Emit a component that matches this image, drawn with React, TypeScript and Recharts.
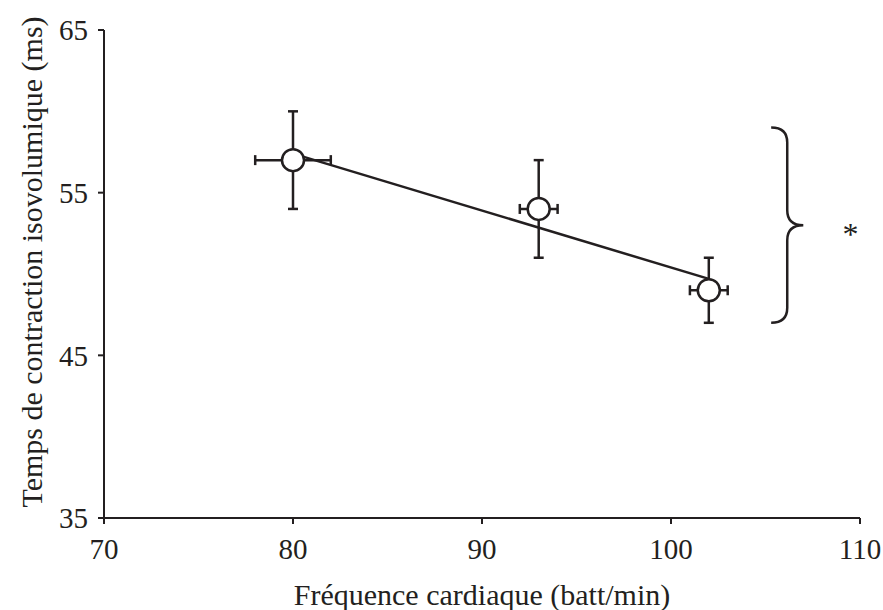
import {
  ScatterChart,
  Scatter,
  XAxis,
  YAxis,
  ErrorBar,
  ReferenceArea,
  ReferenceDot,
} from "recharts";

const INK = "#231f20";
const FONT = "'Liberation Serif', 'Times New Roman', serif";

// heart rate (bpm) vs isovolumic contraction time (ms)
const heartRate = [80, 93, 102];
const contractionTime = [57, 54, 49];
const heartRateErr = [2, 1, 1];
const contractionErr = [3, 3, 2];

// regression line, read at both ends
const trendX = [80, 102];
const trendY = [57.4, 49.7];

const xTicks = [70, 80, 90, 100, 110];
const yTicks = [35, 45, 55, 65];

// brace + asterisk annotation (significance)
const braceX = [105.3, 107.0];
const braceY = [47, 59];
const star = { x: 109.5, y: 52.5 };

const points = heartRate.map((x, i) => ({
  x,
  y: contractionTime[i],
  xErr: heartRateErr[i],
  yErr: contractionErr[i],
}));

const trend = trendX.map((x, i) => ({ x, y: trendY[i] }));

const Brace = (props: any) => {
  const { x, y, width: w, height: h } = props;
  const r = 15;
  const mx = x + w / 2;
  const my = y + h / 2;
  const d =
    `M ${x} ${y} Q ${mx} ${y} ${mx} ${y + r} ` +
    `L ${mx} ${my - r} Q ${mx} ${my} ${x + w} ${my} ` +
    `Q ${mx} ${my} ${mx} ${my + r} ` +
    `L ${mx} ${y + h - r} Q ${mx} ${y + h} ${x} ${y + h}`;
  return <path d={d} fill="none" stroke={INK} strokeWidth={2.5} />;
};

const YTitle = (props: any) => {
  const { x, y, height } = props.viewBox;
  const cx = x + 42;
  const cy = y + height / 2 - 12;
  return (
    <text
      x={cx}
      y={cy}
      transform={`rotate(-90, ${cx}, ${cy})`}
      textAnchor="middle"
      fontFamily={FONT}
      fontSize={30}
      fill={INK}
    >
      Temps de contraction isovolumique (ms)
    </text>
  );
};

const XTitle = (props: any) => {
  const { x, y, width } = props.viewBox;
  return (
    <text
      x={x + width / 2}
      y={y + 87}
      textAnchor="middle"
      fontFamily={FONT}
      fontSize={30}
      fill={INK}
    >
      Fréquence cardiaque (batt/min)
    </text>
  );
};

const tickStyle = { fontFamily: FONT, fontSize: 29, fill: INK };

export default function App() {
  return (
    <div style={{ position: "absolute", left: 0, top: 0, background: "#fff" }}>
      <ScatterChart
        width={883}
        height={610}
        margin={{ top: 30, right: 23, bottom: 0, left: 0 }}
      >
        <XAxis
          type="number"
          dataKey="x"
          domain={[70, 110]}
          ticks={xTicks}
          height={92}
          tickSize={6}
          tickMargin={14}
          tick={tickStyle}
          axisLine={{ stroke: INK, strokeWidth: 2 }}
          tickLine={{ stroke: INK, strokeWidth: 2 }}
          label={<XTitle />}
        />
        <YAxis
          type="number"
          dataKey="y"
          domain={[35, 65]}
          ticks={yTicks}
          width={104}
          tickSize={6}
          tickMargin={10}
          tick={tickStyle}
          axisLine={{ stroke: INK, strokeWidth: 2 }}
          tickLine={{ stroke: INK, strokeWidth: 2 }}
          label={<YTitle />}
        />
        <ReferenceArea
          x1={braceX[0]}
          x2={braceX[1]}
          y1={braceY[0]}
          y2={braceY[1]}
          shape={Brace}
        />
        <ReferenceDot
          x={star.x}
          y={star.y}
          r={0}
          fill="none"
          stroke="none"
          label={{ value: "*", position: "center", fontFamily: FONT, fontSize: 32, fill: INK }}
        />
        <Scatter
          data={trend}
          line={{ stroke: INK, strokeWidth: 2.5 }}
          shape={() => <g />}
          isAnimationActive={false}
        />
        <Scatter
          data={points}
          isAnimationActive={false}
          shape={(p: any) => (
            <circle cx={p.cx} cy={p.cy} r={11} fill="#fff" stroke={INK} strokeWidth={2.5} />
          )}
        >
          <ErrorBar dataKey="xErr" direction="x" width={5} stroke={INK} strokeWidth={2.5} />
          <ErrorBar dataKey="yErr" direction="y" width={5} stroke={INK} strokeWidth={2.5} />
        </Scatter>
      </ScatterChart>
    </div>
  );
}
